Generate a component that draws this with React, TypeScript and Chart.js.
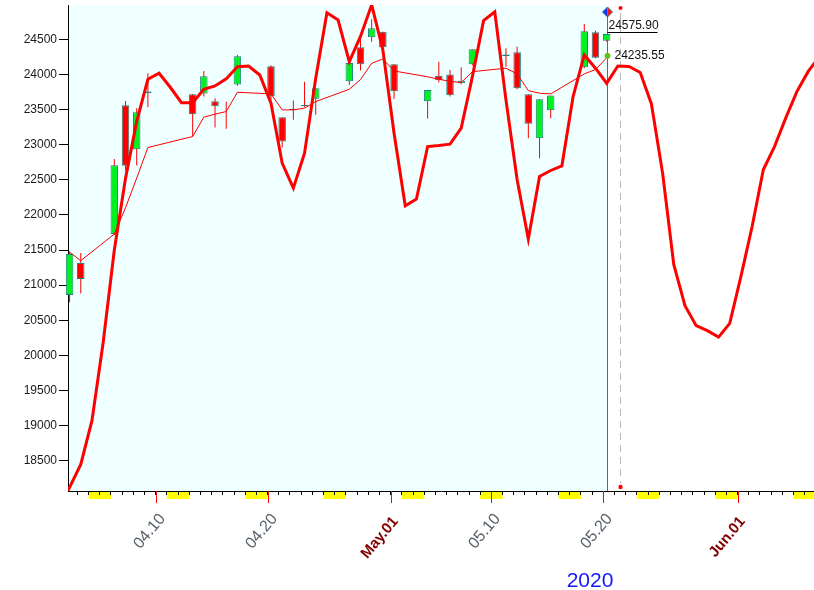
import React, { useEffect, useRef } from 'react';
import { Chart, registerables } from 'chart.js';

Chart.register(...registerables);

// ---------------- data ----------------
const candleDates = ['04.02','04.03','04.06','04.07','04.08','04.09','04.13','04.14','04.15','04.16','04.17','04.20','04.21','04.22','04.23','04.24','04.27','04.28','04.29','04.30','05.01','05.04','05.05','05.06','05.07','05.08','05.11','05.12','05.13','05.14','05.15','05.18','05.19','05.20'];
const opens  = [20860,21315,21727,23562,22936,23735,23718,23727,23618,23462,23855,24116,23391,23490,23545,23655,23903,24386,24528,24608,24145,23618,23982,23997,23874,24145,24262,24315,23718,23092,23490,24102,24600,24480];
const highs  = [21480,21457,22794,23623,23519,24017,23718,24049,23661,23613,24277,24130,23391,23627,23897,23803,24163,24523,24784,24608,24145,23779,24181,24063,24102,24358,24372,24395,23718,23647,23698,24718,24622,24576];
const lows   = [20755,20879,21713,22632,22703,23533,23115,23684,23243,23225,23840,23637,22959,23353,23533,23424,23850,24054,24466,24348,23651,23371,23883,23684,23860,24125,24110,23789,23092,22808,23377,24088,24230,24470];
const closes = [21443,21088,22708,22699,23462,23755,23434,23974,23547,23462,24258,23690,23044,23510,23565,23803,24163,24145,24656,24386,23761,23779,23917,23704,23911,24358,24282,23803,23296,23647,23698,24614,24238,24575.9];
const maValues = [21470,21348,21727,22100,22524,22959,23115,23391,23434,23471,23746,23722,23495,23495,23519,23613,23789,23925,24158,24220,24049,23966,23931,23902,23883,24039,24088,24007,23769,23732,23722,24007,24069,24235.55];

// daily curve starting 04.01
const curveStartDate = '04.01';
const curveValues = [
  17800,18120,18447,19070,20180,21500,22520,23330,23931,24017,
  23817,23598,23598,23789,23836,23936,24110,24120,23992,23590,
  22737,22381,22879,23945,24878,24774,24181,24540,24990,24348,
  23163,22130,22225,22973,22987,23007,23235,23968,24765,24892,
  23637,22500,21656,22547,22632,22698,23684,24277,24088,23874,
  24120,24113,24028,23580,22595,21290,20708,20423,20352,20260,
  20455,21125,21835,22642,22973,23377,23755,24039,24250
];

const yTickValues = [18500,19000,19500,20000,20500,21000,21500,22000,22500,23000,23500,24000,24500];
const xLabelDates = ['04.10','04.20','05.01','05.10','05.20','06.01'];
const xLabelTexts = ['04.10','04.20','May.01','05.10','05.20','Jun.01'];
const weekendStarts = ['04.04','04.11','04.18','04.25','05.02','05.09','05.16','05.23','05.30','06.06'];
const yearText = '2020';
const lastPriceText = '24575.90';
const maText = '24235.55';
const cursorDate = '05.21';

// ---------------- helpers ----------------
const FONT = '"Liberation Sans", Arial, sans-serif';
const SHIFT = 0.3;

function dayIndex(mmdd: string): number {
  const [m, d] = mmdd.split('.').map(Number);
  return Math.round((Date.UTC(2020, m - 1, d) - Date.UTC(2020, 3, 1)) / 86400000);
}

export default function App() {
  const ref = useRef<HTMLCanvasElement>(null);

  useEffect(() => {
    document.body.style.margin = '0';
    const canvas = ref.current;
    if (!canvas) return;

    const candleX = candleDates.map((d) => dayIndex(d) + SHIFT);
    const lastX = candleX[candleX.length - 1];
    const lastClose = closes[closes.length - 1];
    const lastMa = maValues[maValues.length - 1];
    const curveStart = dayIndex(curveStartDate);
    const cursorX = dayIndex(cursorDate) + 0.45;

    const decor: any = {
      id: 'decor',
      beforeDraw(chart: any) {
        const { ctx, chartArea: a, scales } = chart;
        const x = scales.x;
        const xl = Math.round(x.getPixelForValue(lastX)) + 0.5;
        ctx.save();
        ctx.fillStyle = '#f0ffff';
        ctx.fillRect(a.left, a.top, xl - a.left, a.bottom - a.top);
        ctx.fillStyle = '#ffff00';
        weekendStarts.forEach((w) => {
          const d = dayIndex(w);
          const x1 = Math.max(a.left, x.getPixelForValue(d));
          const x2 = Math.min(a.right, x.getPixelForValue(d + 2));
          if (x2 > x1) ctx.fillRect(x1, a.bottom + 1, x2 - x1, 7);
        });
        ctx.restore();
      },
      beforeDatasetsDraw(chart: any) {
        const { ctx, chartArea: a, scales } = chart;
        const x = scales.x;
        const xl = Math.round(x.getPixelForValue(lastX)) + 0.5;
        const xd = Math.round(x.getPixelForValue(cursorX)) + 0.5;
        ctx.save();
        ctx.strokeStyle = '#2a7f7f';
        ctx.lineWidth = 1;
        ctx.beginPath();
        ctx.moveTo(xl, a.top + 10);
        ctx.lineTo(xl, a.bottom);
        ctx.stroke();
        ctx.strokeStyle = '#b8b8b8';
        ctx.setLineDash([7, 5]);
        ctx.beginPath();
        ctx.moveTo(xd, a.top + 8);
        ctx.lineTo(xd, a.bottom - 8);
        ctx.stroke();
        ctx.restore();
      },
      afterDraw(chart: any) {
        const { ctx, chartArea: a, scales } = chart;
        const x = scales.x;
        const y = scales.y;
        ctx.save();
        // labelled day ticks + rotated labels
        xLabelDates.forEach((d, i) => {
          const px = Math.round(x.getPixelForValue(dayIndex(d))) + 0.5;
          ctx.strokeStyle = '#ff0000';
          ctx.lineWidth = 1;
          ctx.beginPath();
          ctx.moveTo(px, a.bottom);
          ctx.lineTo(px, a.bottom + 12);
          ctx.stroke();
          const text = xLabelTexts[i];
          const bold = /^[A-Za-z]/.test(text);
          ctx.save();
          if (bold) ctx.translate(px + 4, a.bottom + 28);
          else ctx.translate(px + 6, a.bottom + 25);
          ctx.rotate((-50 * Math.PI) / 180);
          ctx.font = `${bold ? 'bold 15px' : '16px'} ${FONT}`;
          ctx.fillStyle = bold ? '#800000' : '#56606b';
          ctx.textAlign = 'right';
          ctx.textBaseline = 'middle';
          ctx.fillText(text, 0, 0);
          ctx.restore();
        });
        // year
        ctx.font = `21px ${FONT}`;
        ctx.fillStyle = '#1616ff';
        ctx.textAlign = 'center';
        ctx.textBaseline = 'alphabetic';
        ctx.fillText(yearText, 590, 587);

        const xl = Math.round(x.getPixelForValue(lastX)) + 0.5;
        const xd = Math.round(x.getPixelForValue(cursorX)) + 0.5;
        // diamond marker
        const dy = a.top + 7;
        ctx.beginPath();
        ctx.moveTo(xl, dy - 5); ctx.lineTo(xl - 5, dy); ctx.lineTo(xl, dy + 5); ctx.closePath();
        ctx.fillStyle = '#1530ff'; ctx.fill();
        ctx.beginPath();
        ctx.moveTo(xl, dy - 5); ctx.lineTo(xl + 5, dy); ctx.lineTo(xl, dy + 5); ctx.closePath();
        ctx.fillStyle = '#ff1010'; ctx.fill();
        ctx.beginPath();
        ctx.moveTo(xl, dy - 5); ctx.lineTo(xl + 5, dy); ctx.lineTo(xl, dy + 5); ctx.lineTo(xl - 5, dy); ctx.closePath();
        ctx.strokeStyle = '#2a7f7f'; ctx.lineWidth = 1; ctx.stroke();
        // red dots on cursor
        ctx.fillStyle = '#ff0000';
        ctx.beginPath(); ctx.arc(xd, a.top + 3, 2, 0, Math.PI * 2); ctx.fill();
        ctx.beginPath(); ctx.arc(xd, a.bottom - 4, 2.2, 0, Math.PI * 2); ctx.fill();
        // last price
        const yp = y.getPixelForValue(lastClose);
        const yl = Math.round(yp - 2) + 0.5;
        ctx.strokeStyle = '#000000';
        ctx.beginPath(); ctx.moveTo(xl, yl); ctx.lineTo(xl + 50, yl); ctx.stroke();
        ctx.font = `12px ${FONT}`;
        ctx.fillStyle = '#111111';
        ctx.textAlign = 'left';
        ctx.textBaseline = 'alphabetic';
        ctx.fillText(lastPriceText, xl + 1, yp - 4.5);
        // MA value
        const ym = y.getPixelForValue(lastMa) - 2;
        ctx.beginPath(); ctx.arc(xl, ym, 2.6, 0, Math.PI * 2);
        ctx.fillStyle = '#22dd22'; ctx.fill();
        ctx.strokeStyle = '#c89a10'; ctx.lineWidth = 1; ctx.stroke();
        ctx.fillStyle = '#111111';
        ctx.textBaseline = 'middle';
        ctx.fillText(maText, xl + 7, ym);
        ctx.restore();
      },
    };

    const chart = new Chart(canvas, {
      type: 'bar',
      data: {
        datasets: [
          {
            type: 'line',
            data: curveValues.map((v, i) => ({ x: curveStart + i + SHIFT, y: v })),
            borderColor: '#ff0000',
            borderWidth: 3,
            pointRadius: 0,
            tension: 0,
            order: 0,
          } as any,
          {
            type: 'line',
            data: maValues.map((v, i) => ({ x: candleX[i], y: v })),
            borderColor: '#ff0000',
            borderWidth: 1,
            pointRadius: 0,
            tension: 0,
            order: 1,
          } as any,
          {
            type: 'bar',
            data: candleDates.map((_, i) => ({ x: candleX[i], y: [opens[i], closes[i]] })),
            backgroundColor: closes.map((c, i) => (c >= opens[i] ? '#00f020' : '#ff0000')),
            borderColor: '#1f8080',
            borderWidth: 1,
            borderSkipped: false,
            grouped: false,
            maxBarThickness: 7.5,
            clip: false,
            order: 2,
          } as any,
          {
            type: 'bar',
            data: candleDates.map((_, i) => ({ x: candleX[i], y: [lows[i], highs[i]] })),
            backgroundColor: '#ff0000',
            borderWidth: 0,
            grouped: false,
            maxBarThickness: 1,
            clip: false,
            order: 3,
          } as any,
        ],
      },
      options: {
        responsive: false,
        animation: false,
        events: [],
        layout: { padding: { top: 5, left: 0, right: 0, bottom: 0 } },
        plugins: { legend: { display: false }, tooltip: { enabled: false } },
        scales: {
          x: {
            type: 'linear',
            min: 1.16,
            max: 67.83,
            offset: false,
            grid: { display: true, drawOnChartArea: false, drawTicks: true, tickLength: 4, tickColor: '#000000', offset: false },
            border: { display: true, color: '#000000', width: 1 },
            ticks: { display: false, autoSkip: false },
            afterBuildTicks: (s: any) => {
              const t = [];
              for (let d = Math.ceil(s.min); d <= Math.floor(s.max); d++) t.push({ value: d });
              s.ticks = t;
            },
            afterFit: (s: any) => {
              s.height = 99;
              s.paddingLeft = 0;
              s.paddingRight = 0;
            },
          },
          y: {
            type: 'linear',
            min: 18069,
            max: 24988,
            grid: { display: true, drawOnChartArea: false, drawTicks: true, tickLength: 9, tickColor: '#000000' },
            border: { display: true, color: '#000000', width: 1 },
            ticks: {
              color: '#1a1a1a',
              font: { family: FONT, size: 12 },
              padding: 2,
              callback: (v: any) => String(v),
            },
            afterBuildTicks: (s: any) => {
              s.ticks = yTickValues.map((v) => ({ value: v }));
            },
            afterFit: (s: any) => {
              s.width = 68;
              s.paddingTop = 0;
              s.paddingBottom = 0;
            },
          },
        },
      } as any,
      plugins: [decor],
    });

    return () => chart.destroy();
  }, []);

  return <canvas ref={ref} width={814} height={590} style={{ display: 'block' }} />;
}
